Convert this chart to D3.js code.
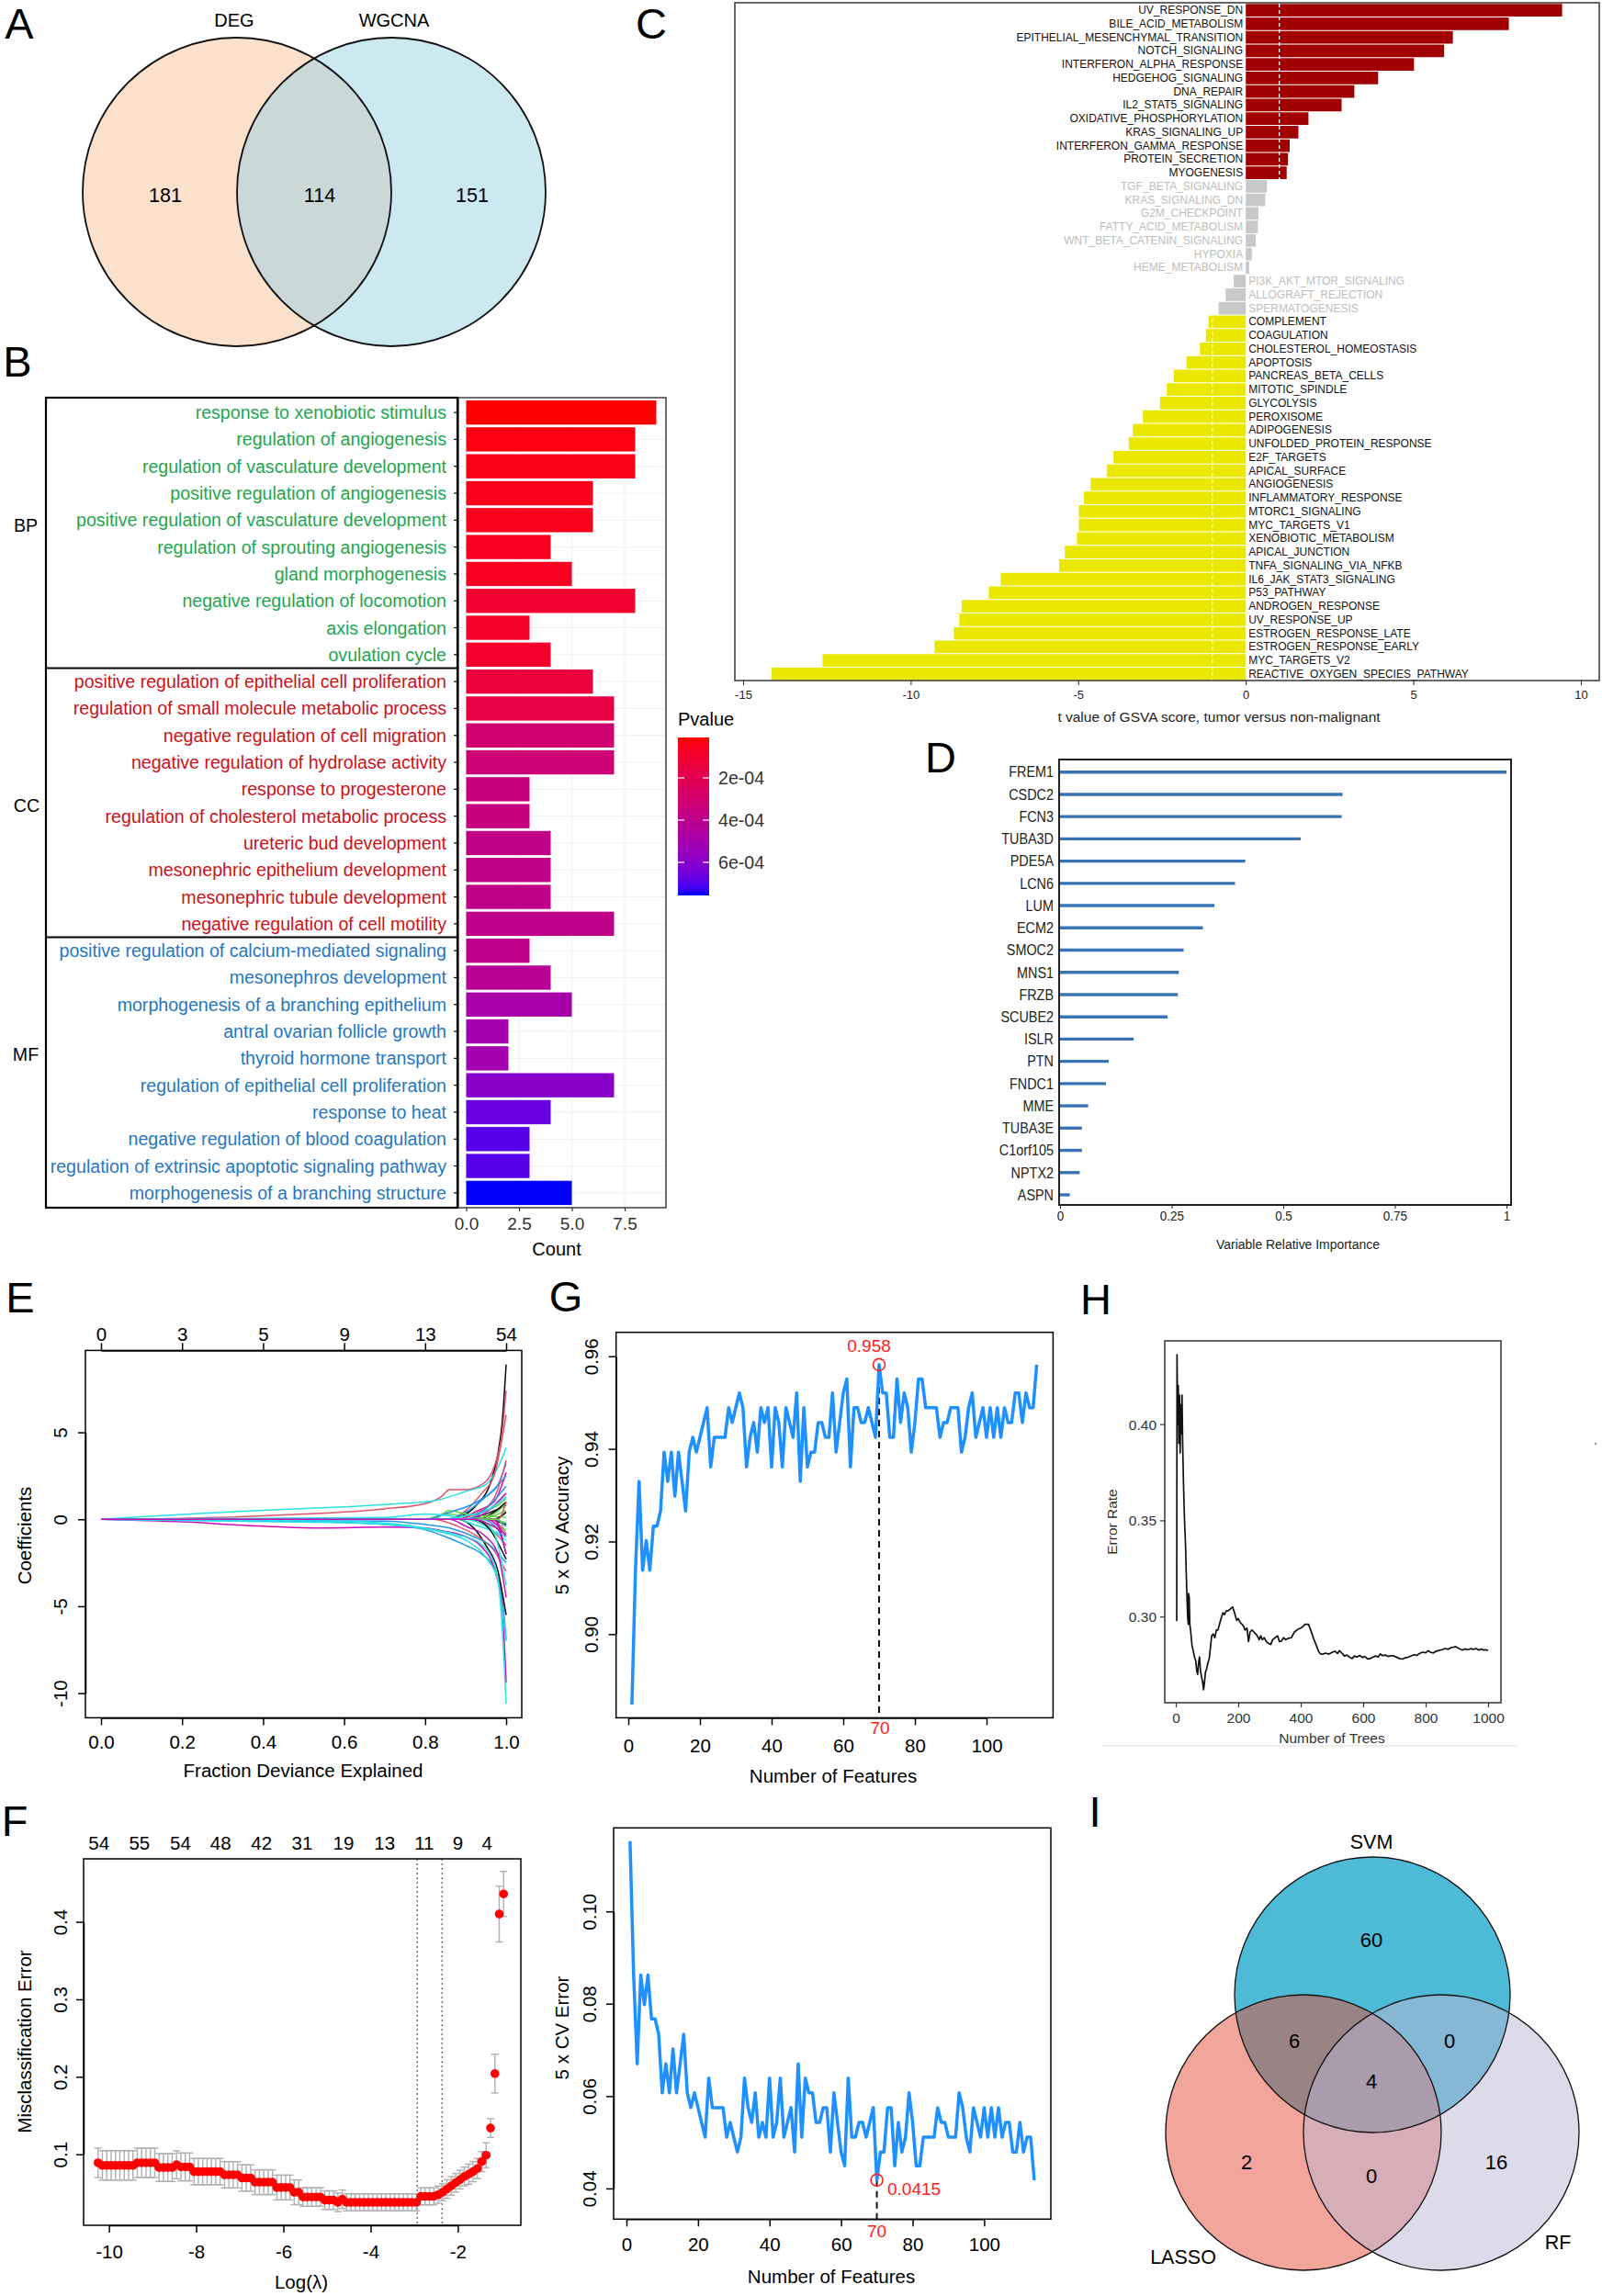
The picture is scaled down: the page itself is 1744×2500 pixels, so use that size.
<!DOCTYPE html>
<html>
<head>
<meta charset="utf-8">
<script src="https://cdn.jsdelivr.net/npm/d3@7/dist/d3.min.js"></script>
<style>
html,body{margin:0;padding:0;background:#fff;}
svg{display:block;}
</style>
</head>
<body>
<svg id="fig" width="1744" height="2500" xmlns="http://www.w3.org/2000/svg"></svg>
<script>
// ===================== DATA =====================
// Panel A
const vennASets = ["DEG", "WGCNA"];
const vennACounts = [181, 114, 151]; // DEG only, both, WGCNA only

// Panel B
const goTerms = [
  "response to xenobiotic stimulus","regulation of angiogenesis","regulation of vasculature development",
  "positive regulation of angiogenesis","positive regulation of vasculature development",
  "regulation of sprouting angiogenesis","gland morphogenesis","negative regulation of locomotion",
  "axis elongation","ovulation cycle",
  "positive regulation of epithelial cell proliferation","regulation of small molecule metabolic process",
  "negative regulation of cell migration","negative regulation of hydrolase activity","response to progesterone",
  "regulation of cholesterol metabolic process","ureteric bud development","mesonephric epithelium development",
  "mesonephric tubule development","negative regulation of cell motility",
  "positive regulation of calcium-mediated signaling","mesonephros development",
  "morphogenesis of a branching epithelium","antral ovarian follicle growth","thyroid hormone transport",
  "regulation of epithelial cell proliferation","response to heat","negative regulation of blood coagulation",
  "regulation of extrinsic apoptotic signaling pathway","morphogenesis of a branching structure"
];
const goOntology = ["BP","BP","BP","BP","BP","BP","BP","BP","BP","BP",
                    "CC","CC","CC","CC","CC","CC","CC","CC","CC","CC",
                    "MF","MF","MF","MF","MF","MF","MF","MF","MF","MF"];
const goCounts = [9,8,8,6,6,4,5,8,3,4, 6,7,7,7,3,3,4,4,4,7, 3,4,5,2,2,7,4,3,3,5];
const goPvalues = [8.7e-6,3.1e-5,3.5e-5,4.6e-5,5.0e-5,5.4e-5,6.1e-5,9.8e-5,8.3e-5,9.1e-5,
                   1.36e-4,1.58e-4,3.08e-4,3.23e-4,3.45e-4,3.53e-4,3.83e-4,3.83e-4,3.83e-4,3.9e-4,
                   3.98e-4,4.2e-4,4.95e-4,5.1e-4,5.1e-4,5.92e-4,6.67e-4,6.97e-4,6.97e-4,7.57e-4];
const goOntologyNames = ["BP","CC","MF"];
const goCountTicks = [0, 2.5, 5, 7.5];
const goPvalueBreaks = [2e-4, 4e-4, 6e-4];
const goPvalueLabels = ["2e-04", "4e-04", "6e-04"];

// Panel C
const hallmarkNames = ["UV_RESPONSE_DN","BILE_ACID_METABOLISM","EPITHELIAL_MESENCHYMAL_TRANSITION","NOTCH_SIGNALING",
  "INTERFERON_ALPHA_RESPONSE","HEDGEHOG_SIGNALING","DNA_REPAIR","IL2_STAT5_SIGNALING","OXIDATIVE_PHOSPHORYLATION",
  "KRAS_SIGNALING_UP","INTERFERON_GAMMA_RESPONSE","PROTEIN_SECRETION","MYOGENESIS","TGF_BETA_SIGNALING",
  "KRAS_SIGNALING_DN","G2M_CHECKPOINT","FATTY_ACID_METABOLISM","WNT_BETA_CATENIN_SIGNALING","HYPOXIA",
  "HEME_METABOLISM","PI3K_AKT_MTOR_SIGNALING","ALLOGRAFT_REJECTION","SPERMATOGENESIS","COMPLEMENT",
  "COAGULATION","CHOLESTEROL_HOMEOSTASIS","APOPTOSIS","PANCREAS_BETA_CELLS","MITOTIC_SPINDLE","GLYCOLYSIS",
  "PEROXISOME","ADIPOGENESIS","UNFOLDED_PROTEIN_RESPONSE","E2F_TARGETS","APICAL_SURFACE","ANGIOGENESIS",
  "INFLAMMATORY_RESPONSE","MTORC1_SIGNALING","MYC_TARGETS_V1","XENOBIOTIC_METABOLISM","APICAL_JUNCTION",
  "TNFA_SIGNALING_VIA_NFKB","IL6_JAK_STAT3_SIGNALING","P53_PATHWAY","ANDROGEN_RESPONSE","UV_RESPONSE_UP",
  "ESTROGEN_RESPONSE_LATE","ESTROGEN_RESPONSE_EARLY","MYC_TARGETS_V2","REACTIVE_OXYGEN_SPECIES_PATHWAY"];
const hallmarkT = [9.44,7.85,6.18,5.92,5.02,3.95,3.24,2.86,1.87,1.57,
                   1.31,1.26,1.22,0.63,0.58,0.38,0.36,0.30,0.18,0.10,
                   -0.36,-0.60,-0.81,-1.11,-1.19,-1.37,-1.77,-2.15,-2.36,-2.56,
                   -3.07,-3.37,-3.49,-3.95,-4.15,-4.63,-4.83,-4.98,-4.98,-5.04,
                   -5.40,-5.57,-7.31,-7.67,-8.48,-8.55,-8.71,-9.29,-12.63,-14.15];
const hallmarkTicks = [-15,-10,-5,0,5,10];
const hallmarkCutoff = 1;

// Panel D
const rfGenes = ["FREM1","CSDC2","FCN3","TUBA3D","PDE5A","LCN6","LUM","ECM2","SMOC2","MNS1",
                 "FRZB","SCUBE2","ISLR","PTN","FNDC1","MME","TUBA3E","C1orf105","NPTX2","ASPN"];
const rfImportance = [1.0,0.633,0.631,0.539,0.415,0.392,0.346,0.320,0.277,0.266,
                      0.264,0.241,0.165,0.109,0.103,0.063,0.049,0.049,0.044,0.022];
const rfTicks = [0,0.25,0.5,0.75,1];

// Panel E (coefficient paths: [fraction deviance explained, coefficient])
const ePaths = [
  [[0,0],[0.85,0],[0.9,0.3],[0.93,0.9],[0.96,2.0],[0.98,3.8],[0.99,5.5],[1.0,8.9]],
  [[0,0],[0.2,0.05],[0.5,0.3],[0.7,0.6],[0.8,0.9],[0.84,1.3],[0.86,1.7],[0.9,1.7],[0.94,2.0],[0.97,3.0],[0.99,5.0],[1.0,7.4]],
  [[0,0],[0.8,0],[0.85,0.3],[0.9,0.2],[0.95,0.5],[0.98,0.8],[1.0,1.2]],
  [[0,0],[0.5,-0.1],[0.7,-0.3],[0.8,-0.6],[0.85,-1.0],[0.9,-1.5],[0.94,-2.0],[0.97,-2.8],[0.99,-4.5],[1.0,-6.9]],
  [[0,0],[0.1,0.15],[0.2,0.28],[0.4,0.52],[0.6,0.72],[0.75,0.92],[0.83,1.1],[0.9,1.6],[0.95,2.0],[0.98,3.0],[1.0,4.1]],
  [[0,0],[0.2,-0.15],[0.4,-0.4],[0.55,-0.5],[0.7,-0.45],[0.8,-0.5],[0.85,-0.7],[0.9,-1.0],[0.94,-1.6],[0.97,-2.8],[0.99,-5.0],[1.0,-9.4]],
  [[0,0],[0.88,0],[0.92,-0.5],[0.95,-1.5],[0.98,-3.0],[1.0,-5.5]],
  [[0,0],[0.86,0],[0.9,0.5],[0.94,1.5],[0.97,2.5],[1.0,6.0]],
  [[0,0],[0.9,0],[0.95,-0.3],[1.0,-0.6]],
  [[0,0],[0.85,0],[0.9,0.4],[0.95,1.3],[0.98,2.0],[1.0,3.2]],
  [[0,0],[0.3,-0.1],[0.6,-0.2],[0.75,-0.4],[0.85,-0.8],[0.9,-1.2],[0.95,-2.2],[0.98,-3.5],[1.0,-10.6]],
  [[0,0],[0.88,0],[0.93,0.5],[0.97,1.0],[1.0,2.7]],
  [[0,0],[0.9,0],[0.95,0.3],[1.0,0.8]],
  [[0,0],[0.82,0],[0.88,-0.4],[0.93,-1.0],[0.97,-1.8],[1.0,-3.0]],
  [[0,0],[0.82,0],[0.86,0.5],[0.9,0.3],[0.95,0.2],[1.0,0.1]],
  [[0,0],[0.7,-0.1],[0.8,-0.3],[0.86,-0.5],[0.92,-1.0],[0.96,-1.5],[1.0,-2.5]],
  [[0,0],[0.6,-0.1],[0.8,-0.5],[0.88,-0.9],[0.93,-1.3],[0.97,-2.5],[1.0,-7.0]],
  [[0,0],[0.86,0],[0.9,-0.4],[0.95,-1.0],[0.98,-2.0],[1.0,-4.5]],
  [[0,0],[0.93,0],[0.97,0.4],[1.0,1.0]],
  [[0,0],[0.92,0],[0.96,-0.5],[1.0,-1.5]],
  [[0,0],[0.94,0],[0.98,0.3],[1.0,0.5]],
  [[0,0],[0.8,0],[0.86,0.4],[0.92,0.9],[0.96,1.5],[1.0,2.5]],
  [[0,0],[0.9,0],[0.95,-0.4],[1.0,-1.2]],
  [[0,0],[0.9,0],[0.95,0.4],[1.0,1.5]],
  [[0,0],[0.95,0],[1.0,-0.3]],
  [[0,0],[0.88,0],[0.93,0.4],[0.97,1.2],[1.0,3.4]],
  [[0,0],[0.96,0],[1.0,-0.2]],
  [[0,0],[0.94,0],[0.98,-0.6],[1.0,-2.0]],
  [[0,0],[0.7,0.1],[0.8,0.3],[0.86,0.2],[0.92,-0.3],[0.96,-0.6],[1.0,-1.0]],
  [[0,0],[0.95,0],[0.98,-0.4],[1.0,-1.0]],
  [[0,0],[0.97,0],[1.0,0.4]],
  [[0,0],[0.96,0],[1.0,-0.8]],
  [[0,0],[0.9,0],[0.96,0.2],[1.0,0.9]],
  [[0,0],[0.97,0],[1.0,-0.4]],
  [[0,0],[0.85,0],[0.9,0.2],[0.96,0.6],[1.0,1.3]],
  [[0,0],[0.97,0],[1.0,-2.0]],
  [[0,0],[0.92,0],[0.96,-0.6],[1.0,-2.3]],
  [[0,0],[0.98,0],[1.0,1.0]],
  [[0,0],[0.98,0],[1.0,-1.0]],
  [[0,0],[0.9,0],[0.95,0.6],[1.0,1.9]],
  [[0,0],[0.93,0],[0.97,-0.8],[1.0,-3.8]],
  [[0,0],[0.92,0],[0.96,-0.3],[1.0,-0.9]]
];
const ePalette = ["#000000","#DF536B","#61D04F","#2297E6","#28E2E5","#CD0BBC"];
const eBottomTicks = [0,0.2,0.4,0.6,0.8,1.0];
const eTopLabels = ["0","3","5","9","13","54"];
const eYTicks = [-10,-5,0,5];

// Panel F
const fLogLambda = [-10.25,-10.15,-10.05,-9.95,-9.85,-9.75,-9.65,-9.55,-9.45,-9.35,-9.25,-9.15,-9.05,-8.95,
  -8.85,-8.75,-8.65,-8.55,-8.45,-8.35,-8.25,-8.15,-8.05,-7.95,-7.85,-7.75,-7.65,-7.55,-7.45,-7.35,-7.25,
  -7.15,-7.05,-6.95,-6.85,-6.75,-6.65,-6.55,-6.45,-6.35,-6.25,-6.15,-6.05,-5.95,-5.85,-5.75,-5.65,-5.55,
  -5.45,-5.35,-5.25,-5.15,-5.05,-4.95,-4.85,-4.75,-4.65,-4.55,-4.45,-4.35,-4.25,-4.15,-4.05,-3.95,-3.85,
  -3.75,-3.65,-3.55,-3.45,-3.35,-3.25,-3.15,-3.05,-2.95,-2.85,-2.75,-2.65,-2.55,-2.45,-2.35,-2.25,-2.15,
  -2.05,-1.95,-1.85,-1.75,-1.65,-1.55,-1.45,-1.35,-1.25,-1.15,-1.05,-0.95];
const fErr = [0.089,
  0.0857,0.0857,0.0857,0.0857,0.0857,0.0857,0.0857,0.0857,
  0.089,0.089,0.089,0.089,0.089,
  0.0829,0.0829,0.0829,0.0829,
  0.0865,
  0.0837,0.0837,0.0837,
  0.0776,0.0776,0.0776,0.0776,0.0776,0.0776,0.0776,
  0.0735,0.0735,0.0735,0.0735,
  0.0694,0.0694,0.0694,
  0.064,0.064,0.064,0.064,0.064,
  0.0571,0.0571,0.0571,0.0571,
  0.051,0.051,
  0.0449,0.0449,0.0449,0.0449,0.0449,
  0.0408,0.0408,0.0408,
  0.038,0.042,
  0.038,0.038,0.038,0.038,0.038,0.038,0.038,0.038,0.038,0.038,0.038,0.038,0.038,0.038,0.038,0.038,0.038,
  0.0457,0.0457,0.0457,0.0457,
  0.0478,0.051,0.0551,0.0592,0.0633,0.0673,0.0714,0.0743,0.0776,0.0816,0.0906,0.0988,0.1339,0.2041,0.410,0.436];
const fSE = [0.019,0.019,0.019,0.019,0.019,0.019,0.019,0.019,0.019,0.019,0.019,0.019,0.019,0.019,
  0.018,0.018,0.018,0.018,0.018,0.018,0.018,0.018,
  0.017,0.017,0.017,0.017,0.017,0.017,0.017,0.017,0.017,0.017,0.017,0.017,0.017,0.017,
  0.016,0.016,0.016,0.016,0.016,0.016,0.016,0.016,0.016,0.016,0.016,
  0.012,0.012,0.012,0.012,0.012,0.012,0.012,0.012,0.012,0.012,
  0.011,0.011,0.011,0.011,0.011,0.011,0.011,0.011,0.011,0.011,0.011,0.011,0.011,0.011,0.011,0.011,0.011,
  0.011,0.011,0.011,0.011,0.011,0.011,
  0.012,0.012,0.012,0.012,0.012,
  0.013,0.013,0.013,0.013,
  0.016,0.012,0.025,0.036,0.029];
const fTopAt = [-10.23,-9.3,-8.36,-7.44,-6.5,-5.57,-4.62,-3.68,-2.77,-2.0,-1.33];
const fTopLabels = ["54","55","54","48","42","31","19","13","11","9","4"];
const fLambdaMin = -2.93, fLambda1se = -2.36;
const fXTicks = [-10,-8,-6,-4,-2];
const fYTicks = [0.1,0.2,0.3,0.4];

// Panel G (SVM-RFE): 5-fold CV accuracy by number of features (1..114)
const gAccuracy = [0.8848,0.9138,0.9330,0.9138,0.9202,0.9138,0.9233,0.9233,0.9266,0.9393,
 0.9330,0.9393,0.9298,0.9393,0.9330,0.9266,0.9393,0.9425,0.9393,0.9425,
 0.9457,0.9489,0.9361,0.9425,0.9425,0.9425,0.9425,0.9489,0.9457,0.9489,
 0.9521,0.9489,0.9361,0.9425,0.9457,0.9393,0.9489,0.9457,0.9489,0.9361,
 0.9489,0.9457,0.9361,0.9489,0.9457,0.9425,0.9521,0.9330,0.9489,0.9361,
 0.9393,0.9393,0.9457,0.9457,0.9425,0.9425,0.9521,0.9393,0.9457,0.9521,
 0.9551,0.9361,0.9489,0.9489,0.9457,0.9457,0.9489,0.9457,0.9425,0.9582,
 0.9521,0.9521,0.9425,0.9425,0.9551,0.9457,0.9521,0.9489,0.9393,0.9457,
 0.9551,0.9551,0.9489,0.9489,0.9489,0.9489,0.9425,0.9457,0.9457,0.9489,
 0.9489,0.9489,0.9393,0.9425,0.9489,0.9521,0.9425,0.9457,0.9489,0.9425,
 0.9489,0.9425,0.9489,0.9425,0.9489,0.9457,0.9457,0.9521,0.9521,0.9457,
 0.9521,0.9489,0.9489,0.9582];
const gError = gAccuracy.map(a => +(1 - a).toFixed(4)); // CV error = 1 - accuracy
const gBestN = 70, gBestAccLabel = "0.958", gBestErrLabel = "0.0415";
const gXTicks = [0,20,40,60,80,100];
const gAccTicks = [0.90,0.92,0.94,0.96];
const gErrTicks = [0.04,0.06,0.08,0.10];

// Panel H (random forest OOB error vs number of trees)
const hTrees = [1,3,4,6,8,10,12,14,16,18,20,22,25,28,31,34,36,38,40,41,43,45,48,52,56,60,64,67,70,73,76,79,82,86,89,92,95,99,
  103,107,111,115,120,125,130,135,140,145,151,156,162,168,175,182,188,195,200,206,212,217,222,228,233,238,244,250,256,261,
  267,272,277,283,290,297,304,310,318,326,332,337,345,352,360,370,380,392,400,408,414,420,425,432,441,450,457,463,470,480,
  490,502,510,518,524,532,540,548,556,565,572,580,589,598,605,614,622,630,640,648,655,662,670,680,690,699,708,716,726,735,
  745,755,764,772,780,790,800,808,815,825,833,842,852,863,872,880,889,896,905,912,918,926,935,944,952,962,970,978,986,993,1000];
const hError = [0.298,0.298,0.436,0.40,0.42,0.39,0.415,0.385,0.41,0.395,0.415,0.39,0.367,0.35,0.338,0.32,0.309,0.30,0.296,
  0.312,0.31,0.296,0.292,0.285,0.282,0.279,0.277,0.272,0.270,0.276,0.279,0.272,0.269,0.266,0.262,0.266,0.271,0.273,
  0.276,0.278,0.284,0.29,0.291,0.289,0.293,0.293,0.296,0.299,0.302,0.301,0.303,0.303,0.304,0.305,0.302,0.298,0.299,0.297,
  0.296,0.295,0.293,0.294,0.287,0.292,0.293,0.292,0.291,0.290,0.288,0.290,0.288,0.289,0.287,0.286,0.2855,0.288,0.289,0.290,
  0.287,0.2871,0.289,0.288,0.2887,0.289,0.292,0.2935,0.294,0.295,0.296,0.296,0.296,0.293,0.2887,0.285,0.282,0.2806,0.2805,
  0.281,0.2805,0.2815,0.282,0.2808,0.2823,0.281,0.2795,0.280,0.279,0.2782,0.2795,0.2790,0.2798,0.2787,0.2793,0.2780,0.2782,
  0.2789,0.2795,0.279,0.2806,0.2797,0.2800,0.2793,0.2797,0.2795,0.2788,0.2782,0.2779,0.2786,0.2790,0.2797,0.2802,0.2798,
  0.2808,0.2815,0.2812,0.2823,0.2815,0.2811,0.2820,0.2824,0.2828,0.2834,0.2830,0.2838,0.2841,0.2844,0.2835,0.2830,0.2826,
  0.2832,0.2828,0.2833,0.2830,0.2834,0.2826,0.2831,0.2826,0.2828,0.2823];
const hXTicks = [0,200,400,600,800,1000];
const hYTicks = [0.30,0.35,0.40];

// Panel I
const vennISets = ["SVM","LASSO","RF"];
const vennIRegions = ["SVM only","SVM&LASSO","SVM&RF","all","LASSO only","LASSO&RF","RF only"];
const vennICounts = [60, 6, 0, 4, 2, 0, 16];

// ===================== DRAWING =====================
const FONT = "'Liberation Sans', Arial, Helvetica, sans-serif";
const svg = d3.select("#fig").attr("font-family", FONT);
svg.append("rect").attr("width", 1744).attr("height", 2500).attr("fill", "#fff");
const defs = svg.append("defs");

function T(g, x, y, s, o = {}) {
  let tr = `translate(${x},${y})`;
  if (o.rot) tr += ` rotate(${o.rot})`;
  if (o.sx) tr += ` scale(${o.sx},1)`;
  return g.append("text").attr("transform", tr)
    .attr("text-anchor", o.anchor || "middle")
    .attr("dominant-baseline", "central")
    .attr("font-size", o.size || 16)
    .attr("fill", o.fill || "#000")
    .text(s);
}
function axis(parent, gen, tx, ty, o = {}) {
  const g = parent.append("g").attr("transform", `translate(${tx},${ty})`).call(gen)
    .attr("font-family", FONT).attr("font-size", o.size || 20.5)
    .attr("color", o.color || "#000");
  g.selectAll("line,path").attr("stroke-width", o.sw || 1.5);
  if (o.noDomain) g.select(".domain").remove();
  const t = g.selectAll(".tick text").attr("dy", null).attr("dominant-baseline", "central");
  if (o.ty != null) t.attr("y", o.ty);
  if (o.tx != null) t.attr("x", o.tx);
  if (o.rot != null) t.attr("x", null).attr("y", null).attr("text-anchor", "middle")
    .attr("transform", `translate(${o.rot},0) rotate(-90)`);
  if (o.textFill) t.attr("fill", o.textFill);
  if (o.sx) t.each(function() {
    const el = d3.select(this);
    const x = +el.attr("x") || 0, y = +el.attr("y") || 0;
    el.attr("x", null).attr("y", null).attr("transform", `translate(${x},${y}) scale(${o.sx},1)`);
  });
  return g;
}
const box = (g, x0, y0, x1, y1, stroke = "#000", sw = 1.5) =>
  g.append("rect").attr("x", x0).attr("y", y0).attr("width", x1 - x0).attr("height", y1 - y0)
    .attr("fill", "none").attr("stroke", stroke).attr("stroke-width", sw);

// Panel letters
const panelLetters = ["A","B","C","D","E","F","G","H","I"];
const letterPos = {A:[21,25],B:[19,393],C:[709,25],D:[1024,824],E:[22,1412],F:[16,1982],G:[616,1411],H:[1193,1414],I:[1192,1972]};
panelLetters.forEach(L => T(svg, letterPos[L][0], letterPos[L][1], L, {size: 47}));

// ---------- Panel A ----------
{
  const g = svg.append("g");
  const circ = [{cx:258, cy:209, r:168, fill:"#FBE0CC", op:1}, {cx:426, cy:209, r:168, fill:"rgb(153,209,225)", op:0.5}];
  circ.forEach(c => g.append("circle").attr("cx", c.cx).attr("cy", c.cy).attr("r", c.r).attr("fill", c.fill).attr("fill-opacity", c.op));
  circ.forEach(c => g.append("circle").attr("cx", c.cx).attr("cy", c.cy).attr("r", c.r).attr("fill", "none").attr("stroke", "#111").attr("stroke-width", 1.8));
  T(g, 255, 22, vennASets[0], {size: 20});
  T(g, 429, 22, vennASets[1], {size: 20});
  [180, 348, 514].forEach((x, i) => T(g, x, 213, vennACounts[i], {size: 21.5}));
}

// ---------- Panel B ----------
{
  const g = svg.append("g");
  const yB = d3.scaleBand().domain(goTerms).range([433, 1315]).paddingInner(0.1).paddingOuter(0.1);
  const xB = d3.scaleLinear().domain([0, 9]).range([507.5, 714.5]);
  const pMin = d3.min(goPvalues), pMax = d3.max(goPvalues);
  const pColor = d3.scaleLinear().domain([pMin, pMax]).range(["#FF0000", "#0000FF"]).interpolate(d3.interpolateLab);
  goTerms.forEach(t => g.append("line").attr("x1", 499).attr("x2", 725).attr("y1", yB(t) + yB.bandwidth() / 2).attr("y2", yB(t) + yB.bandwidth() / 2).attr("stroke", "#EFEFEF").attr("stroke-width", 1));
  goCountTicks.forEach(v => g.append("line").attr("x1", xB(v)).attr("x2", xB(v)).attr("y1", 433).attr("y2", 1315).attr("stroke", "#EFEFEF").attr("stroke-width", 1));
  g.selectAll("rect.bar").data(goTerms).join("rect").attr("class", "bar")
    .attr("x", xB(0)).attr("y", d => yB(d)).attr("height", yB.bandwidth())
    .attr("width", (d, i) => xB(goCounts[i]) - xB(0))
    .attr("fill", (d, i) => pColor(goPvalues[i]));
  box(g, 499, 433, 725, 1315, "#222", 1.3);
  const divs = [10, 20].map(i => (yB(goTerms[i - 1]) + yB.bandwidth() + yB(goTerms[i])) / 2);
  box(g, 50, 433, 498, 1315, "#000", 2.2);
  divs.forEach(y => g.append("line").attr("x1", 50).attr("x2", 498).attr("y1", y).attr("y2", y).attr("stroke", "#000").attr("stroke-width", 2.2));
  const ontColor = {BP: "#1FA64F", CC: "#CC1118", MF: "#2677C0"};
  const ya = axis(g, d3.axisLeft(yB).tickSize(4).tickPadding(8), 498, 0, {size: 19.6, noDomain: true, sw: 1.2});
  ya.selectAll(".tick text").attr("fill", d => ontColor[goOntology[goTerms.indexOf(d)]]);
  [[28, 572], [29, 877], [28, 1148]].forEach((p, i) => T(g, p[0], p[1], goOntologyNames[i], {size: 19.6}));
  axis(g, d3.axisBottom(xB).tickValues(goCountTicks).tickFormat(d3.format(".1f")).tickSize(4), 0, 1315, {size: 19, ty: 17, noDomain: true, color: "#333", sw: 1.2});
  T(g, 606, 1360, "Count", {size: 20});
  const grad = defs.append("linearGradient").attr("id", "pgrad").attr("x1", 0).attr("y1", 0).attr("x2", 0).attr("y2", 1);
  d3.range(0, 1.0001, 0.05).forEach(t => grad.append("stop").attr("offset", t).attr("stop-color", pColor(pMin + t * (pMax - pMin))));
  T(g, 738, 783, "Pvalue", {size: 20, anchor: "start"});
  g.append("rect").attr("x", 738).attr("y", 803).attr("width", 34).attr("height", 172).attr("fill", "url(#pgrad)");
  const yLeg = d3.scaleLinear().domain([pMin, pMax]).range([803, 975]);
  goPvalueBreaks.forEach((b, i) => {
    g.append("line").attr("x1", 738).attr("x2", 745).attr("y1", yLeg(b)).attr("y2", yLeg(b)).attr("stroke", "#fff").attr("stroke-width", 1.2);
    g.append("line").attr("x1", 765).attr("x2", 772).attr("y1", yLeg(b)).attr("y2", yLeg(b)).attr("stroke", "#fff").attr("stroke-width", 1.2);
    T(g, 782, yLeg(b), goPvalueLabels[i], {size: 19.6, anchor: "start", fill: "#333"});
  });
}

// ---------- Panel C ----------
{
  const g = svg.append("g");
  const yC = d3.scaleBand().domain(hallmarkNames).range([4, 741]).paddingInner(0.07).paddingOuter(0.02);
  const xC = d3.scaleLinear().domain([-15, 10]).range([809, 1721]);
  const col = v => v > hallmarkCutoff ? "#A00000" : (v < -hallmarkCutoff ? "#EAE800" : "#C8C8C8");
  g.selectAll("rect.hb").data(hallmarkNames).join("rect").attr("class", "hb")
    .attr("x", (d, i) => xC(Math.min(0, hallmarkT[i])))
    .attr("width", (d, i) => Math.abs(xC(hallmarkT[i]) - xC(0)))
    .attr("y", d => yC(d)).attr("height", yC.bandwidth())
    .attr("fill", (d, i) => col(hallmarkT[i]));
  [-hallmarkCutoff, hallmarkCutoff].forEach(v => g.append("line").attr("x1", xC(v)).attr("x2", xC(v)).attr("y1", 4).attr("y2", 741)
    .attr("stroke", "#fff").attr("stroke-width", 1.3).attr("stroke-dasharray", "4,3"));
  hallmarkNames.forEach((n, i) => {
    const v = hallmarkT[i];
    const fill = Math.abs(v) > hallmarkCutoff ? "#111" : "#BDBDBD";
    T(g, v >= 0 ? xC(0) - 3 : xC(0) + 3, yC(n) + yC.bandwidth() / 2, n, {size: 12, anchor: v >= 0 ? "end" : "start", fill});
  });
  box(g, 800, 3, 1741, 741, "#444", 1.6);
  axis(g, d3.axisBottom(xC).tickValues(hallmarkTicks).tickFormat(d => String(d)).tickSize(5), 0, 741, {size: 13, ty: 15, noDomain: true, color: "#222", sw: 1});
  T(g, 1327, 780, "t value of GSVA score, tumor versus non-malignant", {size: 15.5, fill: "#222"});
}

// ---------- Panel D ----------
{
  const g = svg.append("g");
  const yD = d3.scalePoint().domain(rfGenes).range([840.7, 1301]);
  const xD = d3.scaleLinear().domain([0, 1]).range([1154, 1640]);
  g.selectAll("line.imp").data(rfGenes).join("line").attr("class", "imp")
    .attr("x1", xD(0)).attr("x2", (d, i) => xD(rfImportance[i]))
    .attr("y1", d => yD(d)).attr("y2", d => yD(d))
    .attr("stroke", "#3A73B3").attr("stroke-width", 3.4);
  box(g, 1153, 827, 1645, 1312, "#222", 2);
  rfGenes.forEach(n => T(g, 1147, yD(n), n, {size: 16, anchor: "end", sx: 0.9, fill: "#222"}));
  axis(g, d3.axisBottom(xD).tickValues(rfTicks).tickFormat(d => String(d)).tickSize(4), 0, 1312, {size: 15, ty: 12, noDomain: true, color: "#222", sw: 1, sx: 0.9});
  T(g, 1413, 1355, "Variable Relative Importance", {size: 15.5, sx: 0.9, fill: "#222"});
}

// ---------- Panel E ----------
{
  const g = svg.append("g");
  const xE = d3.scaleLinear().domain([0, 1]).range([110, 551]);
  const yE = d3.scaleLinear().domain([-10, 5]).range([1843.6, 1559.6]);
  defs.append("clipPath").attr("id", "clipE").append("rect").attr("x", 93).attr("y", 1470.4).attr("width", 475).attr("height", 400);
  const line = d3.line().x(d => xE(d[0])).y(d => yE(d[1])).curve(d3.curveMonotoneX);
  const pg = g.append("g").attr("clip-path", "url(#clipE)");
  ePaths.forEach((p, i) => pg.append("path").attr("d", line(p)).attr("fill", "none")
    .attr("stroke", ePalette[i % ePalette.length]).attr("stroke-width", 1.5));
  box(g, 93, 1470.4, 568, 1870.4);
  axis(g, d3.axisBottom(xE).tickValues(eBottomTicks).tickFormat(d3.format(".1f")).tickSize(8).tickSizeOuter(0), 0, 1870.4, {ty: 26});
  axis(g, d3.axisTop(xE).tickValues(eBottomTicks).tickFormat((d, i) => eTopLabels[i]).tickSize(8).tickSizeOuter(0), 0, 1470.4, {ty: -18});
  axis(g, d3.axisLeft(yE).tickValues(eYTicks).tickFormat(d => String(d)).tickSize(8).tickSizeOuter(0), 93, 0, {rot: -28});
  T(g, 26, 1672, "Coefficients", {size: 20.5, rot: -90});
  T(g, 330, 1927, "Fraction Deviance Explained", {size: 20.5});
}

// ---------- Panel F ----------
{
  const g = svg.append("g");
  const xF = d3.scaleLinear().domain([-10, -2]).range([118.6, 498.4]);
  const yF = d3.scaleLinear().domain([0.1, 0.4]).range([2345.7, 2092.6]);
  [fLambdaMin, fLambda1se].forEach(v => g.append("line").attr("x1", xF(v)).attr("x2", xF(v)).attr("y1", 2024).attr("y2", 2423)
    .attr("stroke", "#777").attr("stroke-width", 1.6).attr("stroke-dasharray", "2,3"));
  fLogLambda.forEach((l, i) => {
    const x = xF(l), y0 = yF(fErr[i] - fSE[i]), y1 = yF(fErr[i] + fSE[i]);
    g.append("line").attr("x1", x).attr("x2", x).attr("y1", y0).attr("y2", y1).attr("stroke", "#AFAFAF").attr("stroke-width", 1.4);
    [y0, y1].forEach(y => g.append("line").attr("x1", x - 4).attr("x2", x + 4).attr("y1", y).attr("y2", y).attr("stroke", "#AFAFAF").attr("stroke-width", 1.4));
  });
  g.selectAll("circle.fp").data(fLogLambda).join("circle").attr("class", "fp")
    .attr("cx", d => xF(d)).attr("cy", (d, i) => yF(fErr[i])).attr("r", 4.8).attr("fill", "#FF0000");
  box(g, 91, 2024, 567, 2423);
  axis(g, d3.axisBottom(xF).tickValues(fXTicks).tickFormat(d => String(d)).tickSize(8).tickSizeOuter(0), 0, 2423, {ty: 28});
  axis(g, d3.axisLeft(yF).tickValues(fYTicks).tickFormat(d3.format(".1f")).tickSize(8).tickSizeOuter(0), 91, 0, {rot: -26});
  fTopAt.forEach((v, i) => T(g, xF(v), 2006.5, fTopLabels[i], {size: 20.5}));
  T(g, 26, 2223, "Misclassification Error", {size: 20.5, rot: -90});
  T(g, 328, 2484, "Log(\u03BB)", {size: 20.5});
}

// ---------- Panel G (top: accuracy) ----------
const gN = gAccuracy.map((d, i) => i + 1);
{
  const g = svg.append("g");
  const xG = d3.scaleLinear().domain([0, 100]).range([684, 1074]);
  const yG = d3.scaleLinear().domain([0.90, 0.96]).range([1779.3, 1476.8]);
  const line = d3.line().x((d, i) => xG(gN[i])).y(d => yG(d));
  const bx = xG(gBestN), by = yG(gAccuracy[gBestN - 1]);
  g.append("line").attr("x1", bx).attr("x2", bx).attr("y1", by).attr("y2", 1870.4).attr("stroke", "#111").attr("stroke-width", 2).attr("stroke-dasharray", "7,5");
  g.append("path").attr("d", line(gAccuracy)).attr("fill", "none").attr("stroke", "#1E90FF").attr("stroke-width", 3.5).attr("stroke-linejoin", "round");
  g.append("circle").attr("cx", bx).attr("cy", by).attr("r", 6.5).attr("fill", "none").attr("stroke", "#FF2020").attr("stroke-width", 1.6);
  T(g, bx - 11, 1465.7, gBestAccLabel, {size: 19, fill: "#FF2020"});
  T(g, bx + 1, 1881, String(gBestN), {size: 19, fill: "#FF2020"});
  box(g, 670.7, 1450.7, 1146.4, 1870.4);
  axis(g, d3.axisBottom(xG).tickValues(gXTicks).tickSize(8).tickSizeOuter(0), 0, 1870.4, {ty: 30});
  axis(g, d3.axisLeft(yG).tickValues(gAccTicks).tickFormat(d3.format(".2f")).tickSize(8).tickSizeOuter(0), 670.7, 0, {rot: -27.7});
  T(g, 611, 1661, "5 x CV Accuracy", {size: 20.5, rot: -90});
  T(g, 907, 1933, "Number of Features", {size: 20.5});
}
// ---------- Panel G (bottom: error) ----------
{
  const g = svg.append("g");
  const xG = d3.scaleLinear().domain([0, 100]).range([682, 1071.4]);
  const yG = d3.scaleLinear().domain([0.04, 0.10]).range([2382.9, 2081.2]);
  const line = d3.line().x((d, i) => xG(gN[i])).y(d => yG(d));
  const bx = xG(gBestN), by = yG(gError[gBestN - 1]);
  g.append("line").attr("x1", bx).attr("x2", bx).attr("y1", by).attr("y2", 2416.3).attr("stroke", "#111").attr("stroke-width", 2).attr("stroke-dasharray", "7,5");
  g.append("path").attr("d", line(gError)).attr("fill", "none").attr("stroke", "#1E90FF").attr("stroke-width", 3.5).attr("stroke-linejoin", "round");
  g.append("circle").attr("cx", bx).attr("cy", by).attr("r", 6.5).attr("fill", "none").attr("stroke", "#FF2020").attr("stroke-width", 1.6);
  T(g, 966, 2383, gBestErrLabel, {size: 19, anchor: "start", fill: "#FF2020"});
  T(g, bx, 2429, String(gBestN), {size: 19, fill: "#FF2020"});
  box(g, 668, 1990.3, 1144, 2416.3);
  axis(g, d3.axisBottom(xG).tickValues(gXTicks).tickSize(8).tickSizeOuter(0), 0, 2416.3, {ty: 27.5});
  axis(g, d3.axisLeft(yG).tickValues(gErrTicks).tickFormat(d3.format(".2f")).tickSize(8).tickSizeOuter(0), 668, 0, {rot: -27});
  T(g, 611, 2208, "5 x CV Error", {size: 20.5, rot: -90});
  T(g, 905, 2478, "Number of Features", {size: 20.5});
}

// ---------- Panel H ----------
{
  const g = svg.append("g");
  const xH = d3.scaleLinear().domain([0, 1000]).range([1280, 1620]);
  const yH = d3.scaleLinear().domain([0.30, 0.40]).range([1760.2, 1550.6]);
  const line = d3.line().x((d, i) => xH(hTrees[i])).y(d => yH(d));
  g.append("path").attr("d", line(hError)).attr("fill", "none").attr("stroke", "#111").attr("stroke-width", 1.7).attr("stroke-linejoin", "round");
  box(g, 1268, 1460, 1634, 1854, "#555", 1.8);
  axis(g, d3.axisBottom(xH).tickValues(hXTicks).tickFormat(d => String(d)).tickSize(5).tickSizeOuter(0), 0, 1854, {size: 15.5, ty: 16, color: "#333", sw: 1.2, noDomain: true});
  axis(g, d3.axisLeft(yH).tickValues(hYTicks).tickFormat(d3.format(".2f")).tickSize(5).tickSizeOuter(0), 1268, 0, {size: 15.5, tx: -9, color: "#333", sw: 1.2, noDomain: true});
  T(g, 1450, 1892, "Number of Trees", {size: 15.5, fill: "#333"});
  T(g, 1210, 1657, "Error Rate", {size: 15.5, rot: -90, fill: "#333"});
  g.append("line").attr("x1", 1199).attr("x2", 1652).attr("y1", 1901).attr("y2", 1901).attr("stroke", "#E2E2E2").attr("stroke-width", 1.2);
  g.append("circle").attr("cx", 1737).attr("cy", 1572).attr("r", 1.2).attr("fill", "#999");
}

// ---------- Panel I ----------
{
  const g = svg.append("g");
  const circ = [
    {cx: 1494, cy: 2172, r: 150, fill: "#4DBBD5", op: 1},
    {cx: 1419, cy: 2322, r: 150, fill: "#E64B35", op: 0.5},
    {cx: 1569, cy: 2322, r: 150, fill: "rgb(187,181,213)", op: 0.5}
  ];
  circ.forEach(c => g.append("circle").attr("cx", c.cx).attr("cy", c.cy).attr("r", c.r).attr("fill", c.fill).attr("fill-opacity", c.op));
  circ.forEach(c => g.append("circle").attr("cx", c.cx).attr("cy", c.cy).attr("r", c.r).attr("fill", "none").attr("stroke", "#111").attr("stroke-width", 1.3));
  [[1493, 2006], [1288, 2458], [1696, 2442]].forEach((p, i) => T(g, p[0], p[1], vennISets[i], {size: 21.5}));
  const regionPos = [[1493, 2112], [1409, 2222], [1578, 2222], [1493, 2266], [1357, 2354], [1493, 2369], [1629, 2354]];
  regionPos.forEach((p, i) => T(g, p[0], p[1], vennICounts[i], {size: 22}));
}
</script>
</body>
</html>
